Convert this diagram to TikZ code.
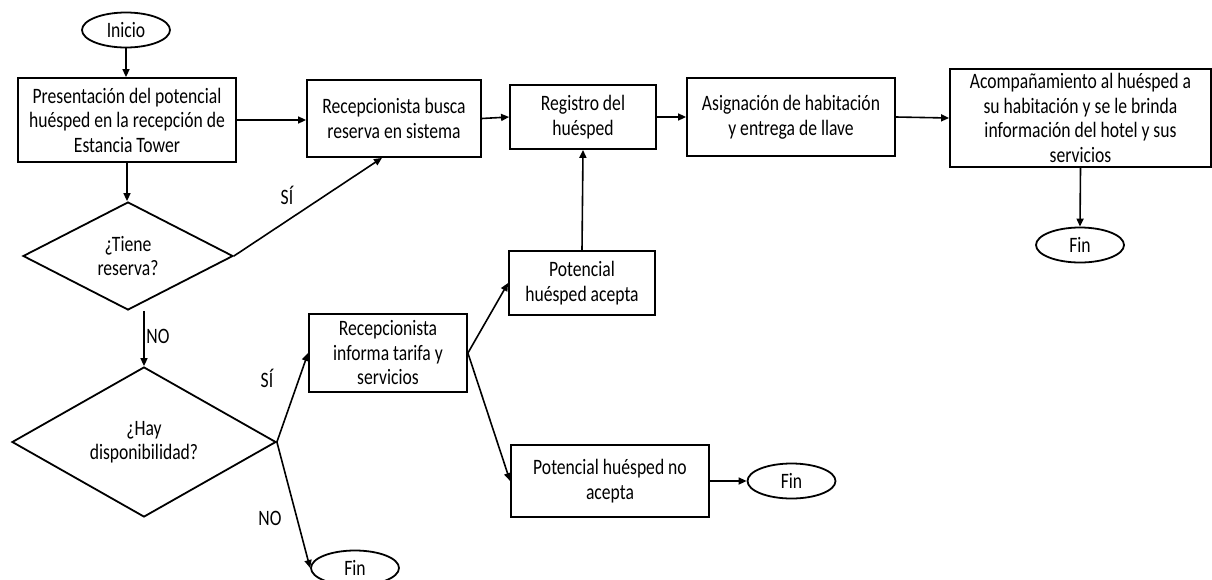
\documentclass[tikz,border=0pt]{standalone}
\usepackage{fontspec}
\setmainfont{Carlito}[FakeStretch=0.8]
\usetikzlibrary{shapes.geometric,arrows.meta}
\newcommand{\fsz}{\fontsize{22}{24.5}\selectfont}
\begin{document}
\begin{tikzpicture}[x=1pt,y=-1pt,
  box/.style={draw, line width=1.8pt, rectangle, align=center, inner sep=1pt, font=\fsz},
  term/.style={draw, line width=1.8pt, ellipse, minimum width=88pt, minimum height=35pt, inner sep=0pt, font=\fsz},
  dec/.style={draw, line width=1.8pt, diamond, shape aspect=2, inner sep=0pt, align=center, font=\fsz},
  arr/.style={-{Triangle[length=8pt,width=7pt]}, line width=1.6pt},
  lbl/.style={font=\fsz, inner sep=0pt}]
\clip (0,0) rectangle (1212,579);
\fill[white] (0,0) rectangle (1212,579);
\node[term] (inicio) at (126,30) {Inicio};
\node[box, minimum width=218pt, minimum height=84pt] (b1) at (127,120) {Presentación del potencial\\huésped en la recepción de\\Estancia Tower};
\node[box, minimum width=174pt, minimum height=77pt] (b2) at (394,118.5) {Recepcionista busca\\reserva en sistema};
\node[box, minimum width=146pt, minimum height=64pt] (b3) at (583,117) {Registro del\\huésped};
\node[box, minimum width=208pt, minimum height=78pt] (b4) at (791,117) {Asignación de habitación\\y entrega de llave};
\node[box, minimum width=261pt, minimum height=98pt] (b5) at (1080.5,118) {Acompañamiento al huésped a\\su habitación y se le brinda\\información del hotel y sus\\servicios};
\node[term] (fin1) at (1080,245) {Fin};
\node[dec, minimum width=210pt, minimum height=108pt] (d1) at (128,256) {¿Tiene\\reserva?};
\node[dec, minimum width=264pt, minimum height=150pt] (d2) at (144,442) {¿Hay\\disponibilidad?};
\node[box, minimum width=158pt, minimum height=78pt] (b6) at (388,353) {Recepcionista\\informa tarifa y\\servicios};
\node[box, minimum width=146pt, minimum height=64pt] (b7) at (582,283) {Potencial\\huésped acepta};
\node[box, minimum width=198pt, minimum height=72pt] (b8) at (610,481) {Potencial huésped no\\acepta};
\node[term] (fin3) at (791.5,481) {Fin};
\node[term] (fin2) at (355,568) {Fin};
\node[lbl] (l1) at (287,195) {SÍ};
\node[lbl] (l2) at (158,336) {NO};
\node[lbl] (l3) at (267,378) {SÍ};
\node[lbl] (l4) at (270,518) {NO};
\draw[arr] (inicio.south) -- (inicio.south |- b1.north);
\draw[arr] (b1.south) -- (b1.south |- d1.north);
\draw[arr] (b1.east) -- (b1.east -| b2.west);
\draw[arr] (d1.east) -- ([xshift=-12pt]b2.south);
\draw[arr] (d1.south -| d2.north) -- (d2.north);
\draw[arr] (d2.east) -- (b6.west);
\draw[arr] (d2.east) -- (fin2.west);
\draw[arr] (b6.east) -- (b7.west);
\draw[arr] (b6.east) -- (b8.west);
\draw[arr] (b8.east) -- (fin3.west);
\draw[arr] (b7.north) -- (b3.south);
\draw[arr] (b2.east) -- (b3.west);
\draw[arr] (b3.east) -- (b4.west);
\draw[arr] (b4.east) -- (b5.west);
\draw[arr] (b5.south) -- (fin1.north);
\end{tikzpicture}
\end{document}
